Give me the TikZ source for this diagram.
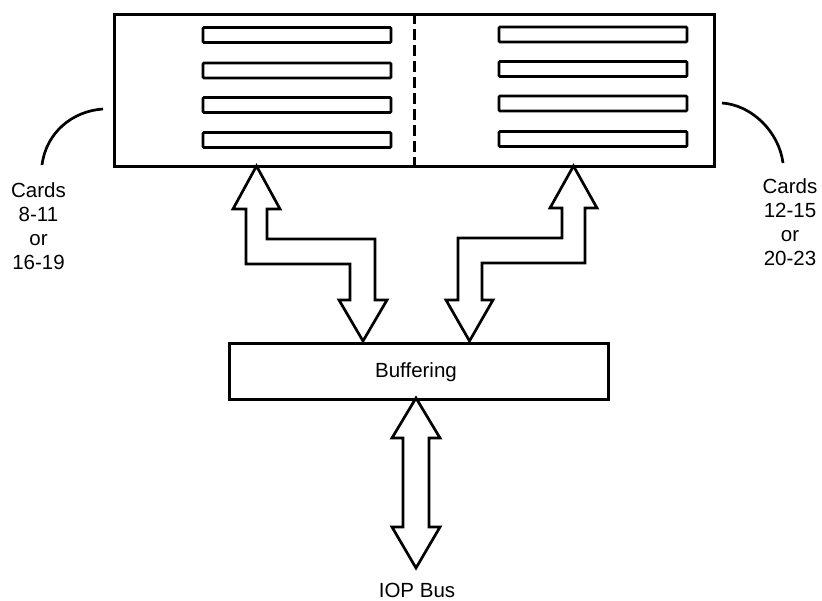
\documentclass[tikz,border=0pt]{standalone}
\usepackage{fontspec}
\setmainfont{Liberation Sans}
\begin{document}
\begin{tikzpicture}[x=1pt,y=-1pt,line width=2.7pt,line join=miter,
  lbl/.style={font=\fontsize{20.5}{24}\selectfont, inner sep=0pt, align=center},
  slotbox/.style={draw, minimum width=188pt, minimum height=15pt, inner sep=0pt, rounded corners=1pt},
  boxnode/.style={draw, inner sep=0pt, anchor=north west}]
\useasboundingbox (0,0) rectangle (822,600);
% card cage
\node[boxnode, minimum width=600pt, minimum height=152pt] (cage) at (113,13) {};
\draw[dash pattern=on 11pt off 5pt, line width=2.3pt] (cage.north) -- (cage.south);
% slots left
\node[slotbox] (l1) at (297,35) {};
\node[slotbox] (l2) at (297,70.5) {};
\node[slotbox] (l3) at (297,105) {};
\node[slotbox] (l4) at (297,140) {};
% slots right
\node[slotbox] (r1) at (593,34.5) {};
\node[slotbox] (r2) at (593,69) {};
\node[slotbox] (r3) at (593,103.5) {};
\node[slotbox] (r4) at (593,139) {};
% buffering
\node[boxnode, minimum width=379pt, minimum height=56pt] (buf) at (228,342) {};
\node[lbl, anchor=base] (buftxt) at (416,377) {Buffering};
% block arrows
\draw (256.5,166) -- (280,209) -- (267,209) -- (267,239) -- (375,239) -- (375,300) -- (387,300)
  -- (363,341) -- (339,300) -- (350,300) -- (350,264) -- (246,264) -- (246,209) -- (233,209) -- cycle;
\draw (573.5,166) -- (597,208) -- (585,208) -- (585,263) -- (482,263) -- (482,300) -- (493,300)
  -- (469.5,341) -- (446,300) -- (458,300) -- (458,238) -- (562,238) -- (562,208) -- (550,208) -- cycle;
\draw (416,398) -- (440,438) -- (429,438) -- (429,527) -- (440,527) -- (416,568)
  -- (392,527) -- (403,527) -- (403,438) -- (392,438) -- cycle;
% leader curves
\coordinate (lc) at (42,165);
\coordinate (rc) at (783,163);
\draw (103,109) .. controls (72,111) and (46,133) .. (lc);
\draw (722,103) .. controls (752,105) and (779,132) .. (rc);
% labels (base anchor = baseline of last line)
\node[lbl, anchor=base] (llbl) at (38.5,269) {Cards\\8-11\\or\\16-19};
\node[lbl, anchor=base] (rlbl) at (790,265) {Cards\\12-15\\or\\20-23};
\node[lbl, anchor=base] (iop) at (417,597) {IOP Bus};
\end{tikzpicture}
\end{document}
